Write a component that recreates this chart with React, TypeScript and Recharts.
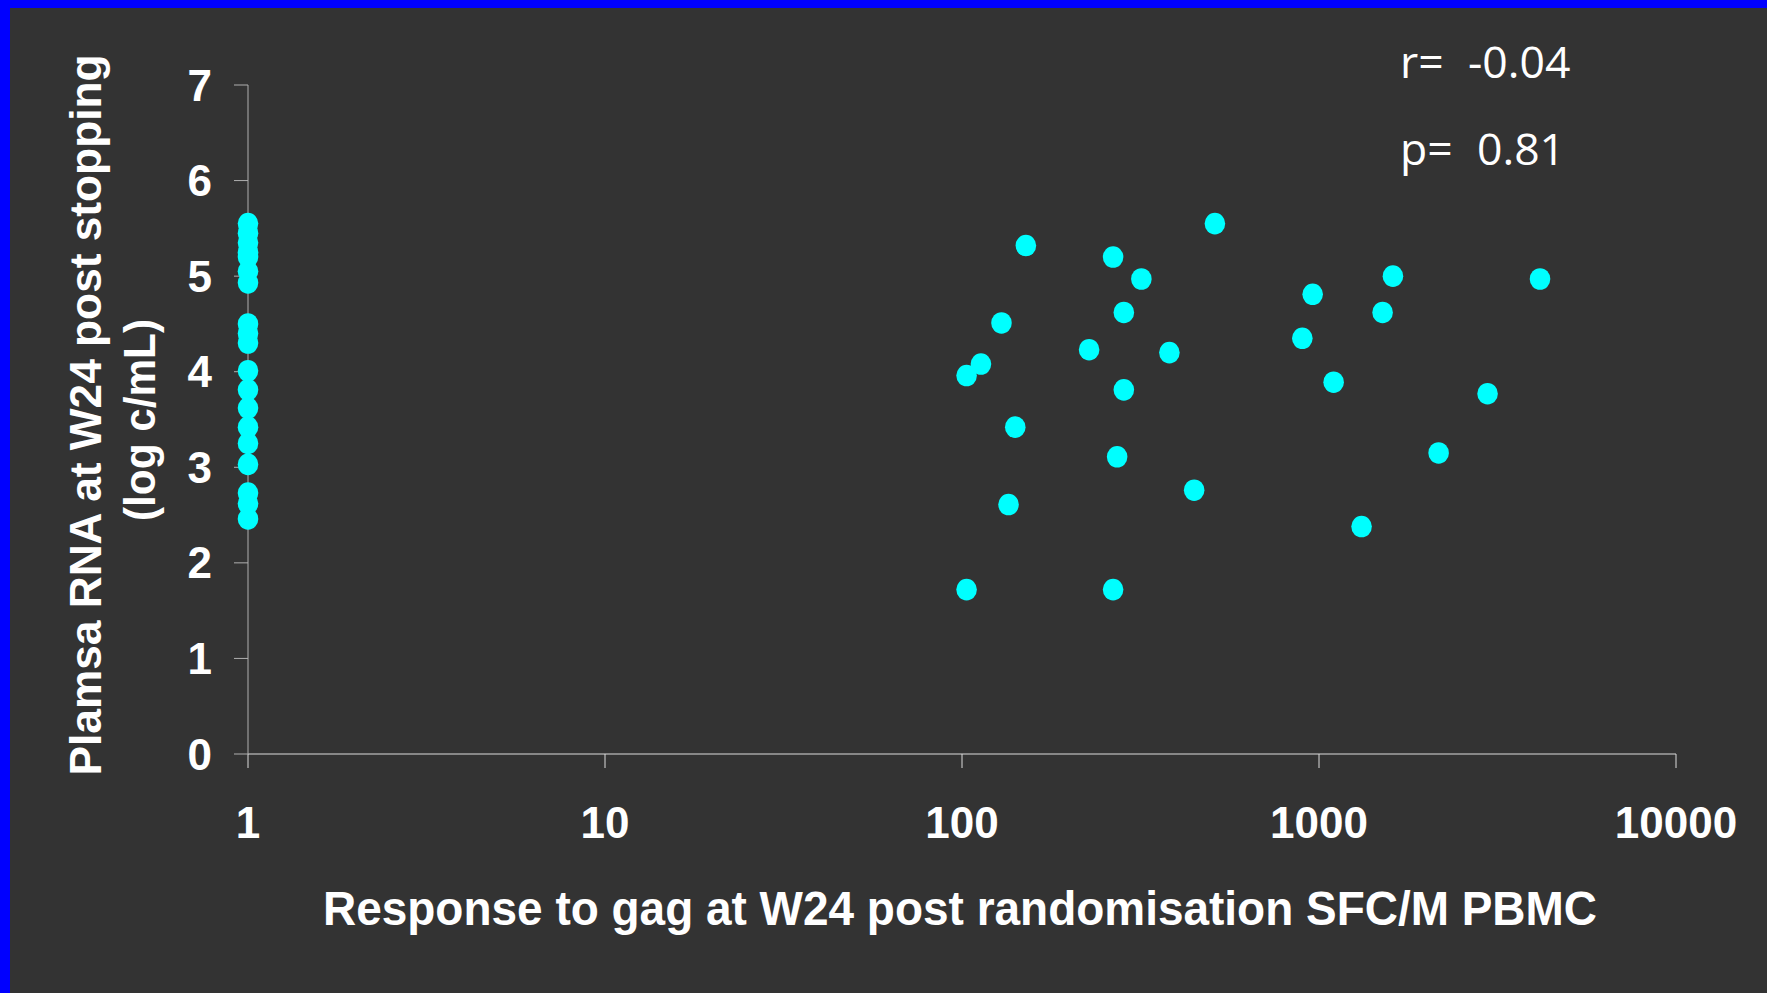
import React from 'react';
import { ScatterChart, Scatter, XAxis, YAxis, Label } from 'recharts';

// Patients with no response (plotted at 1 SFC/M PBMC)
const noResponseX = [1, 1, 1, 1, 1, 1, 1, 1, 1, 1, 1, 1, 1, 1, 1, 1, 1, 1, 1];
const noResponseY = [5.55, 5.45, 5.35, 5.25, 5.2, 5.05, 4.93, 4.5, 4.4, 4.3, 4.01, 3.81, 3.62, 3.42, 3.25, 3.03, 2.73, 2.62, 2.46];

// Patients with a measurable gag response
const responseX = [511, 151, 265, 318, 284, 129, 227, 381, 113, 103, 284, 141, 272, 447, 135, 103, 265, 960, 898, 1507, 1611, 1099, 1316, 4160, 2966, 2163];
const responseY = [5.55, 5.32, 5.2, 4.97, 4.62, 4.51, 4.23, 4.2, 4.08, 3.96, 3.81, 3.42, 3.11, 2.76, 2.61, 1.72, 1.72, 4.81, 4.35, 4.62, 5.0, 3.89, 2.38, 4.97, 3.77, 3.15];

const xTicks = [1, 10, 100, 1000, 10000];
const yTicks = [0, 1, 2, 3, 4, 5, 6, 7];

const xTitle = 'Response to gag at W24 post randomisation SFC/M PBMC';
const yTitleLine1 = 'Plamsa RNA at W24 post stopping';
const yTitleLine2 = '(log c/mL)';
const statRLabel = 'r=';
const statRValue = '-0.04';
const statPLabel = 'p=';
const statPValue = '0.81';

const data = [
  ...noResponseX.map((x, i) => ({ x, y: noResponseY[i] })),
  ...responseX.map((x, i) => ({ x, y: responseY[i] })),
];

const BOLD = '"Liberation Sans", Arial, sans-serif';
const THIN = '"Open Sans", "DejaVu Sans", sans-serif';

const Dot = (props: any) => {
  const { cx, cy } = props;
  return <ellipse cx={cx} cy={cy} rx={10.3} ry={10.8} fill="#00FFFF" />;
};

export default function App() {
  return (
    <div style={{ position: 'absolute', left: 0, top: 0, width: 1767, height: 993, background: '#0000FF', overflow: 'hidden' }}>
      <div style={{ position: 'absolute', left: 10, top: 8, width: 1757, height: 985, background: '#333333' }}>
        <ScatterChart width={1757} height={985} margin={{ top: 77, right: 91, bottom: 0, left: 0 }}>
          <XAxis
            type="number"
            dataKey="x"
            scale="log"
            domain={[1, 10000]}
            ticks={xTicks}
            height={239}
            stroke="#dddddd"
            tickSize={14}
            tickMargin={39}
            tick={{ fill: '#ffffff', fontSize: 44, fontWeight: 700, fontFamily: BOLD }}
            tickLine={{ stroke: '#dddddd' }}
          >
            <Label
              content={() => (
                <g>
                  <text
                    x={950}
                    y={917}
                    textAnchor="middle"
                    fill="#ffffff"
                    fontSize={48}
                    fontWeight={700}
                    fontFamily={BOLD}
                    textLength={1274}
                    lengthAdjust="spacingAndGlyphs"
                  >
                    {xTitle}
                  </text>
                  <text y={70} fill="#ffffff" fontSize={44.5} fontFamily={THIN}>
                    <tspan x={1390}>{statRLabel}</tspan>
                    <tspan x={1458}>{statRValue}</tspan>
                  </text>
                  <text y={157} fill="#ffffff" fontSize={44.5} fontFamily={THIN}>
                    <tspan x={1390}>{statPLabel}</tspan>
                    <tspan x={1467}>{statPValue}</tspan>
                  </text>
                </g>
              )}
            />
          </XAxis>
          <YAxis
            type="number"
            dataKey="y"
            domain={[0, 7]}
            ticks={yTicks}
            width={238}
            stroke="#b0b0b0"
            tickSize={14}
            tickMargin={22}
            tick={{ fill: '#ffffff', fontSize: 44, fontWeight: 700, fontFamily: BOLD }}
            tickLine={{ stroke: '#b0b0b0' }}
          >
            <Label
              content={() => (
                <g>
                  <text
                    x={91}
                    y={407}
                    transform="rotate(-90 91 407)"
                    textAnchor="middle"
                    fill="#ffffff"
                    fontSize={44}
                    fontWeight={700}
                    fontFamily={BOLD}
                    textLength={721}
                    lengthAdjust="spacingAndGlyphs"
                  >
                    {yTitleLine1}
                  </text>
                  <text
                    x={145}
                    y={412}
                    transform="rotate(-90 145 412)"
                    textAnchor="middle"
                    fill="#ffffff"
                    fontSize={44}
                    fontWeight={700}
                    fontFamily={BOLD}
                    textLength={202}
                    lengthAdjust="spacingAndGlyphs"
                  >
                    {yTitleLine2}
                  </text>
                </g>
              )}
            />
          </YAxis>
          <Scatter data={data} fill="#00FFFF" shape={Dot} isAnimationActive={false} />
        </ScatterChart>
      </div>
    </div>
  );
}
